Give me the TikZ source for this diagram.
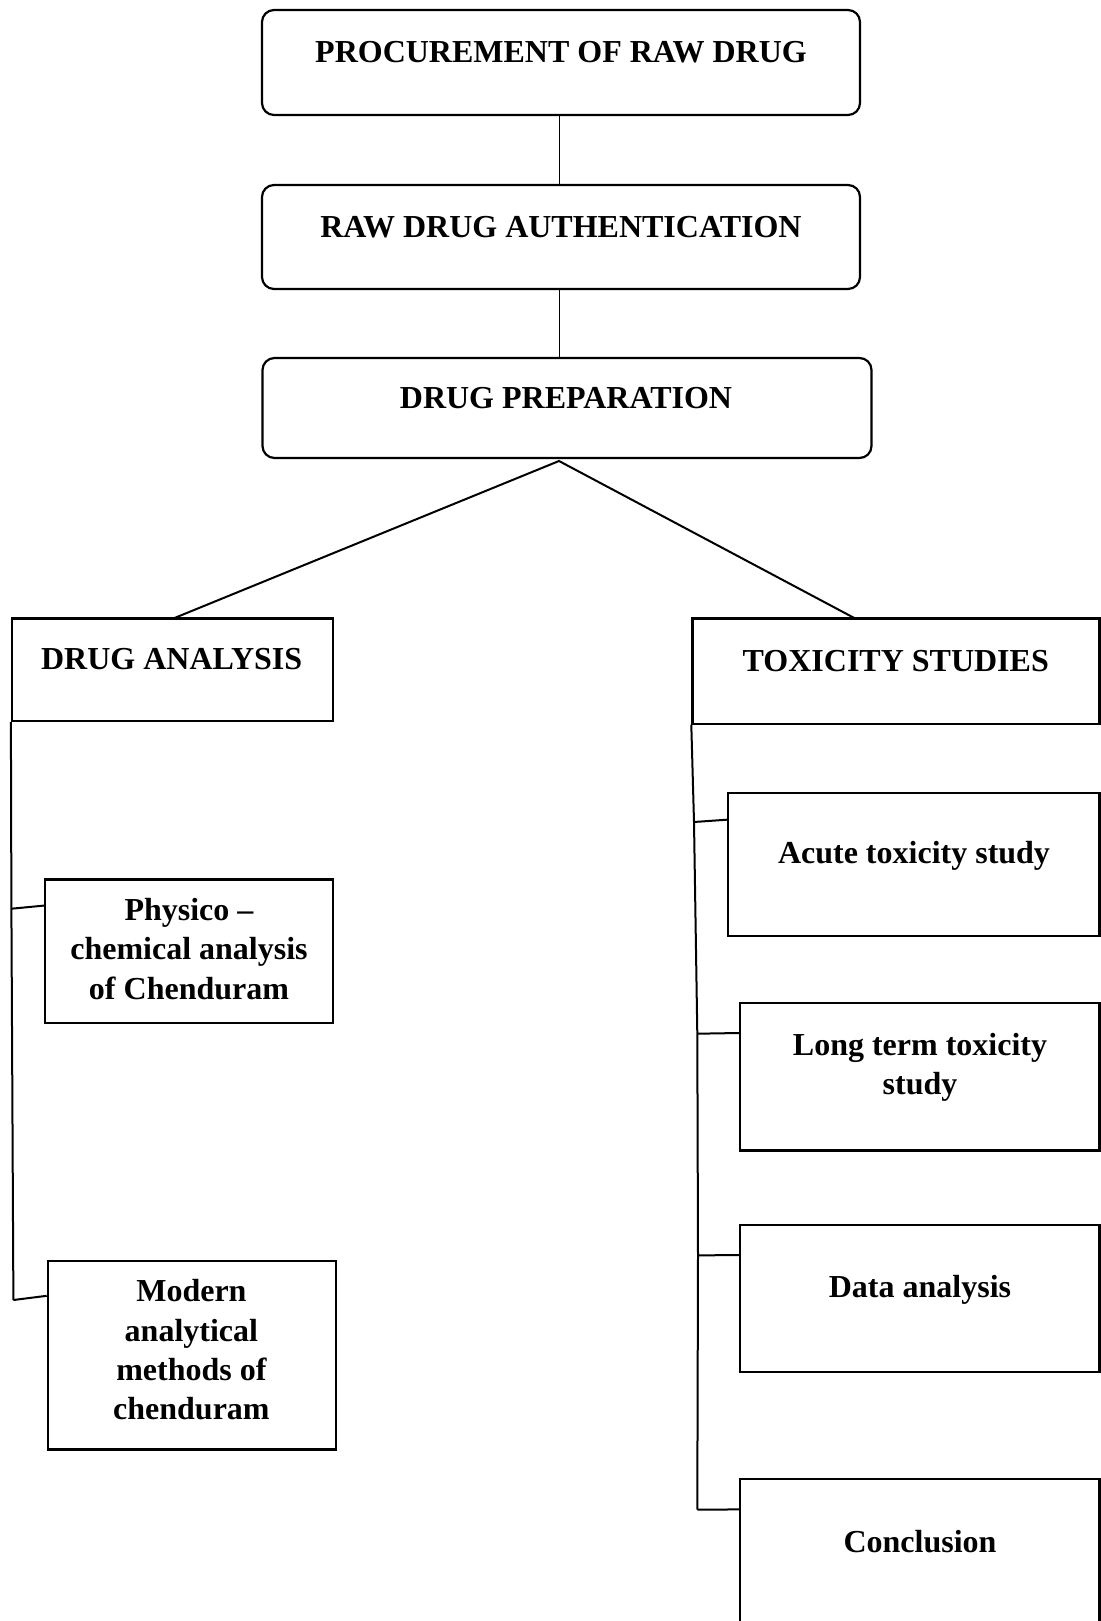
\documentclass[tikz,border=0pt]{standalone}
\usepackage{fontspec}
\setmainfont{Liberation Serif}
\usetikzlibrary{fit,calc}
\newcommand{\mlines}[1]{\begin{tabular}[t]{@{}c@{}}#1\end{tabular}}
\begin{document}
\begin{tikzpicture}[x=0.5pt,y=-0.5pt,
 rbox/.style={draw, line width=1.1pt, rounded corners=6pt, inner sep=0pt},
 sbox/.style={draw, line width=1.1pt, inner sep=0pt},
 lbl/.style={anchor=base, inner sep=0pt, font=\fontsize{16}{19.6}\selectfont\bfseries},
 conn/.style={line width=1pt},
 thinconn/.style={line width=0.45pt}]
\useasboundingbox (0,0) rectangle (1101,1621);
% boxes
\node[rbox, fit={(262,10)(860,115)}] (b1) {};
\node[rbox, fit={(262,185)(860,289)}] (b2) {};
\node[rbox, fit={(262.5,358)(871.5,458)}] (b3) {};
\node[sbox, fit={(12,618.4)(333,721)}] (da) {};
\node[sbox, fit={(692.4,618.4)(1099.5,723.6)}] (ts) {};
\node[sbox, fit={(45,879.4)(333,1023)}] (ph) {};
\node[sbox, fit={(47.8,1260.6)(335.7,1449.5)}] (mo) {};
\node[sbox, fit={(728,793)(1099.5,936)}] (ac) {};
\node[sbox, fit={(740,1003)(1099.5,1150.5)}] (lt) {};
\node[sbox, fit={(740,1225)(1099.5,1372.3)}] (dt) {};
\node[sbox, fit={(740,1479)(1099.5,1660)}] (cc) {};
% labels
\node[lbl] (t1) at (561,62.7) {PROCUREMENT OF RAW DRUG};
\node[lbl] (t2) at (561,237.3) {RAW DRUG AUTHENTICATION};
\node[lbl] (t3) at (566,408.3) {DRUG PREPARATION};
\node[lbl] (t4) at (171.7,669) {DRUG ANALYSIS};
\node[lbl] (t5) at (895.8,671) {TOXICITY STUDIES};
\node[lbl] (t6) at (914,863.3) {Acute toxicity study};
\node[lbl] (t7) at (189,920.7) {\mlines{Physico \textendash\\chemical analysis\\of Chenduram}};
\node[lbl] (t8) at (920,1055.4) {\mlines{Long term toxicity\\study}};
\node[lbl] (t9) at (920,1297) {Data analysis};
\node[lbl] (t10) at (191.4,1301.8) {\mlines{Modern\\analytical\\methods of\\chenduram}};
\node[lbl] (t11) at (920,1552.5) {Conclusion};
% top connectors
\coordinate (c12) at (b1.south -| 559,0);
\coordinate (c23) at (b2.south -| 559,0);
\draw[thinconn] (c12) -- (b2.north -| c12);
\draw[thinconn] (c23) -- (b3.north -| c23);
% split
\coordinate (apex) at (559,461);
\coordinate (daN) at (173.5,618.4);
\coordinate (tsN) at (855,618.4);
\draw[conn] (daN) -- (apex) -- (tsN);
% left spine
\coordinate (jl1) at (11.4,908.7);
\coordinate (jl2) at (13.4,1300);
\draw[conn] (da.south west) -- (jl1) -- (jl2);
\draw[conn] (jl1) -- (ph.west |- 0,905.6);
\draw[conn] (jl2) -- (mo.west |- 0,1295.8);
% right spine
\coordinate (jr1) at (694,822);
\coordinate (jr2) at (697.3,1033.7);
\coordinate (jr3) at (698,1255.4);
\coordinate (jr4) at (697.3,1509.7);
\draw[conn] (ts.south west) -- (jr1) -- (jr2) -- (jr3) -- (jr4);
\draw[conn] (jr1) -- (ac.west |- 0,819.7);
\draw[conn] (jr2) -- (lt.west |- 0,1033);
\draw[conn] (jr3) -- (dt.west |- 0,1255);
\draw[conn] (jr4) -- (cc.west |- 0,1509.4);
\end{tikzpicture}
\end{document}
